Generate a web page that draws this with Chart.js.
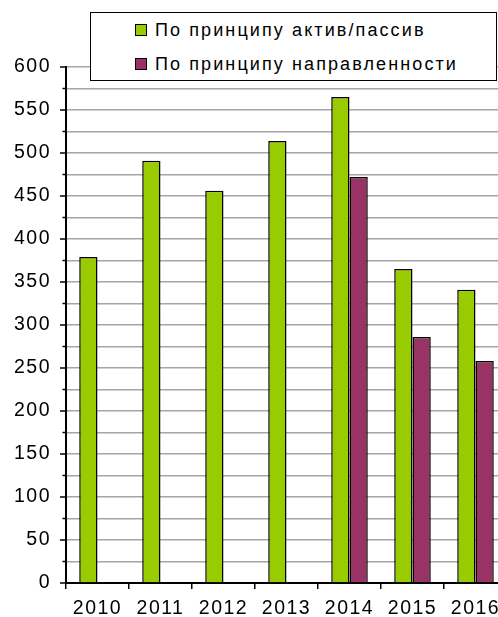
<!DOCTYPE html>
<html><head><meta charset="utf-8">
<script src="https://cdn.jsdelivr.net/npm/chart.js@4"></script>
<style>
html,body{margin:0;padding:0;background:#fff;}
#wrap{position:relative;width:498px;height:617px;overflow:hidden;}
#c{position:absolute;left:0;top:0;}
#legend{position:absolute;left:90px;top:12px;width:405px;height:67px;border:1.5px solid #000;background:#fff;font-family:"Liberation Sans",Arial,sans-serif;font-size:18px;letter-spacing:2.1px;color:#000;}
.item{position:absolute;left:44px;height:22px;line-height:22px;white-space:nowrap;}
.sw{display:inline-block;width:10px;height:10px;border:1px solid #000;margin-right:8px;vertical-align:0px;}
</style></head>
<body><div id="wrap"><canvas id="c" width="512" height="617"></canvas><div id="legend"></div></div>
<script>
const categories = ["2010","2011","2012","2013","2014","2015","2016"];
const seriesActivePassive = [379, 491, 456, 514, 565, 365, 341];
const seriesDirection = [null, null, null, null, 472, 286, 258];
const seriesNames = ["По принципу актив/пассив", "По принципу направленности"];
const colors = ["#99cc00", "#993366"];

const ctx = document.getElementById('c').getContext('2d');
const setSp = (chart)=>{ chart.ctx.letterSpacing='1.5px'; };
const spacing = {id:'spacing', beforeUpdate:setSp, beforeLayout:setSp, beforeDraw:setSp, beforeDatasetsDraw:setSp, afterDatasetsDraw:setSp};
const yTicks = {id:'yTicks', afterDraw(chart){
  const y = chart.scales.y, c = chart.ctx, left = chart.chartArea.left;
  c.save(); c.strokeStyle='#000'; c.lineWidth=1.5;
  y.ticks.forEach(t=>{
    const py = y.getPixelForValue(t.value);
    const len = t.value%50===0 ? 6 : 3.5;
    c.beginPath(); c.moveTo(left-len, py); c.lineTo(left, py); c.stroke();
  });
  c.restore();
}};
const fam = 'Liberation Sans';
const chart = new Chart(ctx, {
  type:'bar',
  data:{labels:categories, datasets:[
    {label:seriesNames[0], data:seriesActivePassive, backgroundColor:colors[0], borderColor:'#000', borderWidth:1.5, categoryPercentage:0.58, barPercentage:1},
    {label:seriesNames[1], data:seriesDirection, backgroundColor:colors[1], borderColor:'#000', borderWidth:1.5, categoryPercentage:0.58, barPercentage:1}
  ]},
  options:{
    responsive:false, animation:false, devicePixelRatio:1,
    layout:{padding:{top:67,right:5,left:0,bottom:0}},
    plugins:{legend:{display:false}, tooltip:{enabled:false}},
    scales:{
      x:{
        grid:{drawOnChartArea:false, offset:true, tickLength:6, color:'#000', lineWidth:1.5},
        border:{color:'#000', width:2},
        ticks:{color:'#000', font:{family:fam, size:19.5}, padding:8, maxRotation:0},
        afterFit(s){ s.height = 34; }
      },
      y:{
        min:0, max:600,
        grid:{color:'#a6a6a6', lineWidth:1.6, drawTicks:false},
        border:{color:'#000', width:2},
        ticks:{stepSize:25, autoSkip:false, color:'#000', font:{family:fam, size:19.5}, padding:15,
          callback:(v)=> v%50===0 ? String(v) : ''},
        afterFit(s){ s.width = 66; }
      }
    }
  },
  plugins:[spacing, yTicks]
});

const lg = document.getElementById('legend');
chart.data.datasets.forEach((ds,i)=>{
  const d = document.createElement('div');
  d.className='item';
  d.style.top = (6 + i*34) + 'px';
  d.innerHTML = '<span class="sw" style="background:'+ds.backgroundColor+'"></span>' + ds.label;
  lg.appendChild(d);
});
</script></body></html>
